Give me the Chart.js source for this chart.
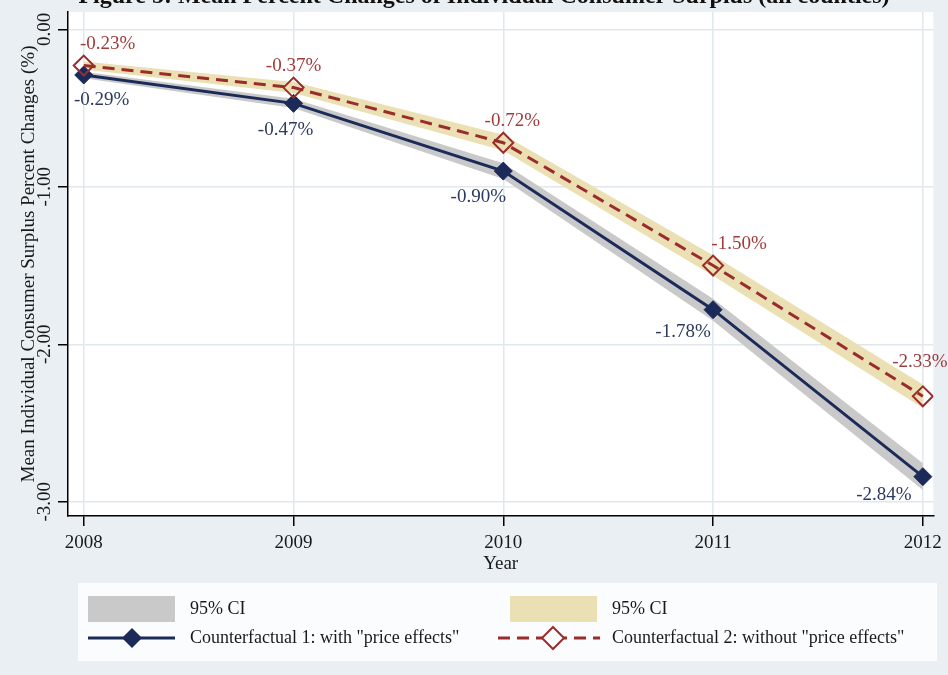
<!DOCTYPE html>
<html>
<head>
<meta charset="utf-8">
<script src="https://cdn.jsdelivr.net/npm/chart.js@4.4.1/dist/chart.umd.min.js"></script>
<style>
  html, body { margin: 0; padding: 0; background: #e9eff3; }
  #wrap { width: 948px; height: 675px; }
</style>
</head>
<body>
<div id="wrap"><canvas id="surplusChart" width="948" height="675"></canvas></div>
<script>
const years = [2008, 2009, 2010, 2011, 2012];
const withPrice = [-0.29, -0.47, -0.90, -1.78, -2.84];
const withoutPrice = [-0.23, -0.37, -0.72, -1.50, -2.33];
// half-widths of the 95% confidence bands
const withPriceCI = [0.02, 0.03, 0.05, 0.07, 0.085];
const withoutPriceCI = [0.025, 0.035, 0.05, 0.065, 0.075];
const yTicks = [0, -1, -2, -3];

// where each value label sits relative to its marker [dx, dy]
const withLabelShift = [[18, 25], [-8, 27], [-25, 26], [-30, 22], [-39, 18]];
const withoutLabelShift = [[24, -22], [0, -22], [9, -22], [26, -22], [-3, -34]];

const SERIF = '"Liberation Serif", "Times New Roman", serif';
const NAVY = '#1b2a59';
const RED = '#9b2c2c';
const GRAY_BAND = '#c9c9c9';
const GOLD_BAND = '#ebe0b3';
const GRID = '#e1e8ec';
const TEXT = '#1a1a1a';

const pts = vals => vals.map((v, i) => ({ x: years[i], y: v }));
const shifted = (vals, ci, sign) => vals.map((v, i) => ({ x: years[i], y: v + sign * ci[i] }));

const bandUpper = {
    pointRadius: 0, borderWidth: 1, borderColor: 'rgba(0,0,0,0)', fill: false, tension: 0
};

const frame = {
    id: 'frame',
    beforeDraw(chart) {
        const c = chart.ctx;
        const a = chart.chartArea;
        c.save();
        c.fillStyle = '#e9eff3';
        c.fillRect(0, 0, chart.width, chart.height);
        c.fillStyle = '#ffffff';
        c.fillRect(a.left, a.top, a.right - a.left, a.bottom - a.top);
        // figure heading, mostly cut off by the top edge
        c.fillStyle = '#111';
        c.font = 'bold 24px ' + SERIF;
        c.textAlign = 'center';
        c.textBaseline = 'alphabetic';
        c.fillText('Figure 5: Mean Percent Changes of Individual Consumer Surplus (all counties)', 484, 3);
        c.restore();
    }
};

const valueLabels = {
    id: 'valueLabels',
    afterDatasetsDraw(chart) {
        const c = chart.ctx;
        c.save();
        c.font = '19px ' + SERIF;
        c.textAlign = 'center';
        c.textBaseline = 'middle';
        const sets = [
            { idx: 0, vals: withoutPrice, shift: withoutLabelShift, color: '#a03c3c' },
            { idx: 1, vals: withPrice, shift: withLabelShift, color: '#2c3a5e' }
        ];
        sets.forEach(s => {
            const meta = chart.getDatasetMeta(s.idx);
            c.fillStyle = s.color;
            meta.data.forEach((p, i) => {
                c.fillText(s.vals[i].toFixed(2) + '%', p.x + s.shift[i][0], p.y + s.shift[i][1]);
            });
        });
        c.restore();
    }
};

function diamond(c, x, y, r) {
    c.beginPath();
    c.moveTo(x, y - r);
    c.lineTo(x + r, y);
    c.lineTo(x, y + r);
    c.lineTo(x - r, y);
    c.closePath();
}

const legendBox = {
    id: 'legendBox',
    afterDraw(chart) {
        const c = chart.ctx;
        c.save();
        c.fillStyle = '#fbfcfd';
        c.fillRect(78, 583, 859, 78);

        c.font = '18px ' + SERIF;
        c.textAlign = 'left';
        c.textBaseline = 'middle';

        c.fillStyle = GRAY_BAND;
        c.fillRect(88, 596, 87, 26);
        c.fillStyle = GOLD_BAND;
        c.fillRect(510, 596, 87, 26);
        c.fillStyle = TEXT;
        c.fillText('95% CI', 190, 609);
        c.fillText('95% CI', 612, 609);

        // solid line with filled diamond
        c.strokeStyle = NAVY;
        c.lineWidth = 3;
        c.beginPath();
        c.moveTo(88, 638);
        c.lineTo(175, 638);
        c.stroke();
        c.fillStyle = NAVY;
        diamond(c, 132, 638, 10);
        c.fill();

        // dashed line with hollow diamond
        c.strokeStyle = RED;
        c.setLineDash([12, 7]);
        c.beginPath();
        c.moveTo(498, 638);
        c.lineTo(600, 638);
        c.stroke();
        c.setLineDash([]);
        c.fillStyle = '#fbfcfd';
        diamond(c, 553, 638, 11);
        c.fill();
        c.lineWidth = 2;
        c.stroke();

        c.fillStyle = TEXT;
        c.fillText('Counterfactual 1: with "price effects"', 190, 638);
        c.fillText('Counterfactual 2: without "price effects"', 612, 638);
        c.restore();
    }
};

new Chart(document.getElementById('surplusChart'), {
    type: 'line',
    data: {
        datasets: [
            {
                label: 'Counterfactual 2: without "price effects"',
                data: pts(withoutPrice),
                borderColor: RED,
                borderWidth: 3,
                borderDash: [12, 7],
                pointStyle: 'rectRot',
                pointRadius: 10,
                pointBorderWidth: 2,
                pointBorderColor: RED,
                pointBackgroundColor: 'rgba(0,0,0,0)',
                fill: false,
                tension: 0
            },
            {
                label: 'Counterfactual 1: with "price effects"',
                data: pts(withPrice),
                borderColor: NAVY,
                borderWidth: 3,
                pointStyle: 'rectRot',
                pointRadius: 9,
                pointBorderWidth: 1,
                pointBorderColor: NAVY,
                pointBackgroundColor: NAVY,
                fill: false,
                tension: 0
            },
            Object.assign({ label: 'ci2 upper', data: shifted(withoutPrice, withoutPriceCI, 1) }, bandUpper),
            Object.assign({ label: '95% CI', data: shifted(withoutPrice, withoutPriceCI, -1) }, bandUpper,
                { fill: '-1', backgroundColor: GOLD_BAND }),
            Object.assign({ label: 'ci1 upper', data: shifted(withPrice, withPriceCI, 1) }, bandUpper),
            Object.assign({ label: '95% CI', data: shifted(withPrice, withPriceCI, -1) }, bandUpper,
                { fill: '-1', backgroundColor: GRAY_BAND })
        ]
    },
    options: {
        responsive: false,
        animation: false,
        devicePixelRatio: 1,
        layout: { padding: { top: 10, right: 8, bottom: 99, left: 0 } },
        plugins: {
            legend: { display: false },
            tooltip: { enabled: false }
        },
        scales: {
            x: {
                type: 'linear',
                min: 2007.925,
                max: 2012.05,
                afterBuildTicks: s => { s.ticks = years.map(v => ({ value: v })); },
                afterFit: s => { s.height = 60; },
                border: { color: '#000', width: 1.5 },
                grid: { color: GRID, lineWidth: 1.5, tickColor: '#000', tickLength: 10, tickWidth: 1.5 },
                ticks: {
                    color: TEXT, font: { family: SERIF, size: 19 }, padding: 6,
                    maxRotation: 0, autoSkip: false, callback: v => String(v)
                },
                title: {
                    display: true, text: 'Year', color: TEXT,
                    font: { family: SERIF, size: 19 }, padding: { top: 0, bottom: 1 }
                }
            },
            y: {
                min: -3.09,
                max: 0.11,
                afterBuildTicks: s => { s.ticks = yTicks.map(v => ({ value: v })); },
                afterFit: s => { s.width = 68; },
                border: { color: '#000', width: 1.5 },
                grid: { color: GRID, lineWidth: 1.5, tickColor: '#000', tickLength: 10, tickWidth: 1.5 },
                ticks: {
                    color: TEXT, font: { family: SERIF, size: 19 },
                    minRotation: 90, maxRotation: 90, crossAlign: 'center', padding: -7,
                    callback: v => v.toFixed(2)
                },
                title: {
                    display: true, text: 'Mean Individual Consumer Surplus Percent Changes (%)', color: TEXT,
                    font: { family: SERIF, size: 19 }, padding: { top: 18, bottom: 0 }
                }
            }
        }
    },
    plugins: [frame, valueLabels, legendBox]
});
</script>
</body>
</html>
